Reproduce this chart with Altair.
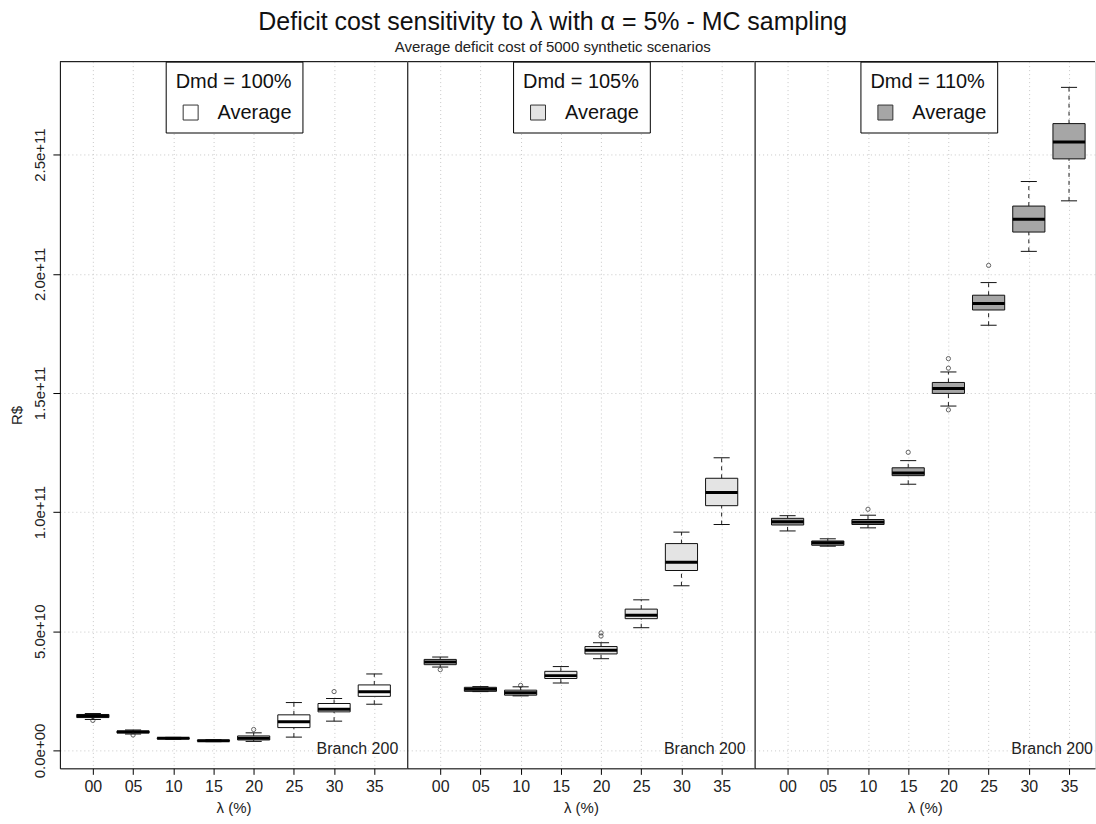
import altair as alt
import pandas as pd

FONT = "Liberation Sans"

lambdas = ["00", "05", "10", "15", "20", "25", "30", "35"]
demands = ["Dmd = 100%", "Dmd = 105%", "Dmd = 110%"]
fills = ["#ffffff", "#e4e4e4", "#a6a6a6"]

# Box-plot statistics of the average deficit cost, in billions of R$
lo_100 = [13.0, 6.9, 4.7, 3.7, 3.8, 5.6, 12.3, 19.4]
q1_100 = [13.8, 7.3, 4.9, 3.9, 4.4, 9.6, 16.2, 22.7]
md_100 = [14.45, 7.8, 5.1, 4.1, 5.15, 12.0, 17.3, 24.6]
q3_100 = [15.1, 8.2, 5.3, 4.3, 6.1, 14.95, 19.7, 27.5]
hi_100 = [15.5, 8.6, 5.5, 4.5, 7.4, 20.1, 21.8, 32.1]

lo_105 = [35.0, 24.7, 22.9, 28.3, 38.5, 51.5, 69.1, 94.8]
q1_105 = [36.0, 24.8, 23.2, 30.2, 40.5, 55.3, 75.5, 102.7]
md_105 = [37.1, 25.7, 24.2, 31.4, 42.0, 56.7, 79.0, 108.2]
q3_105 = [38.2, 26.5, 25.3, 33.2, 43.6, 59.3, 86.8, 114.2]
hi_105 = [39.2, 26.8, 26.7, 35.2, 45.2, 63.2, 91.6, 122.8]

lo_110 = [92.1, 85.7, 93.4, 111.7, 144.5, 178.4, 209.4, 230.6]
q1_110 = [94.6, 86.1, 94.8, 115.3, 149.8, 184.8, 217.5, 248.2]
md_110 = [96.0, 87.1, 95.8, 116.4, 151.9, 187.5, 222.9, 255.3]
q3_110 = [97.4, 87.9, 96.9, 118.6, 154.4, 191.0, 228.4, 263.0]
hi_110 = [98.5, 88.8, 98.7, 121.6, 158.8, 196.3, 238.7, 278.2]

# Outliers: (lambda, value in billions of R$)
out_100 = [("00", 12.6), ("05", 6.5), ("20", 8.8), ("30", 24.7)]
out_105 = [("00", 33.9), ("10", 27.3), ("20", 48.0), ("20", 49.3)]
out_110 = [("10", 101.2), ("15", 125.1), ("20", 164.4), ("20", 160.4),
           ("20", 142.9), ("25", 203.5)]

y_ticks = [0, 5e10, 1e11, 1.5e11, 2e11, 2.5e11]
BN = 1e9

stats = [
    (lo_100, q1_100, md_100, q3_100, hi_100, out_100),
    (lo_105, q1_105, md_105, q3_105, hi_105, out_105),
    (lo_110, q1_110, md_110, q3_110, hi_110, out_110),
]

UNIT = 348 / 8.64          # pixels per category step
PANEL_H = 708
x_label_expr = "[" + ",".join(f"'{l}'" for l in lambdas) + "][datum.value - 1]"
y_label_expr = "datum.value == 0 ? '0.0e+00' : format(datum.value, '.1e')"


def panel(idx, width):
    lo, q1, md, q3, hi, outs = stats[idx]
    df = pd.DataFrame({
        "pos": list(range(1, len(lambdas) + 1)),
        "lam": lambdas,
        "lo": [v * BN for v in lo],
        "q1": [v * BN for v in q1],
        "med": [v * BN for v in md],
        "q3": [v * BN for v in q3],
        "hi": [v * BN for v in hi],
        "series": ["Average"] * len(lambdas),
    })
    odf = pd.DataFrame({
        "pos": [lambdas.index(l) + 1 for l, _ in outs],
        "value": [v * BN for _, v in outs],
    })

    xs = alt.Scale(domain=[0.18, 0.18 + width / UNIT], nice=False, zero=False)
    ys = alt.Scale(domain=[-7.5e9, 2.89e11], nice=False, zero=False)

    xaxis = alt.Axis(
        values=list(range(1, 9)), labelExpr=x_label_expr, title="λ (%)",
        grid=True, gridDash=[1, 3], gridColor="#c8c8c8", gridWidth=1,
        domainColor="black", domainWidth=1, tickColor="black", tickSize=6,
        labelFontSize=16, labelFont=FONT, labelColor="#222222", labelPadding=4,
        titleFontSize=15, titleFont=FONT, titleFontWeight="normal",
        titleColor="#222222", titlePadding=6,
    )
    if idx == 0:
        yaxis = alt.Axis(
            values=y_ticks, labelExpr=y_label_expr, labelAngle=270,
            labelAlign="center", labelBaseline="bottom",
            grid=True, gridDash=[1, 3], gridColor="#c8c8c8",
            domainColor="black", tickColor="black", tickSize=7,
            labelFontSize=15, labelFont=FONT, labelColor="#222222",
            labelPadding=5, title="R$", titleFontSize=15, titleFont=FONT,
            titleFontWeight="normal", titleColor="#222222", titlePadding=8,
        )
    else:
        yaxis = alt.Axis(
            values=y_ticks, labels=False, ticks=False, title=None,
            grid=True, gridDash=[1, 3], gridColor="#c8c8c8",
            domainColor="black",
        )

    base = alt.Chart(df).transform_calculate(
        left="datum.pos - 0.4", right="datum.pos + 0.4",
        capl="datum.pos - 0.2", capr="datum.pos + 0.2",
    )

    boxes = base.mark_rect(stroke="#111111", strokeWidth=1).encode(
        x=alt.X("left:Q", scale=xs, axis=xaxis),
        x2="right:Q",
        y=alt.Y("q1:Q", scale=ys, axis=yaxis),
        y2="q3:Q",
        fill=alt.Fill(
            "series:N",
            scale=alt.Scale(domain=["Average"], range=[fills[idx]]),
            legend=alt.Legend(
                title=demands[idx], orient="none", legendX=106, legendY=0,
                direction="vertical", strokeColor="black", fillColor="white",
                padding=10, titlePadding=11, titleFontSize=20,
                labelFontSize=20, titleFont=FONT, labelFont=FONT,
                titleFontWeight="normal", titleColor="#111111",
                labelColor="#111111", symbolType="square", symbolSize=225,
                symbolStrokeColor="#333333", symbolStrokeWidth=1,
                symbolOffset=5, labelOffset=17,
            ),
        ),
    )
    whisk_up = base.mark_rule(color="#222222", strokeDash=[4, 4]).encode(
        x="pos:Q", y="q3:Q", y2="hi:Q")
    whisk_dn = base.mark_rule(color="#222222", strokeDash=[4, 4]).encode(
        x="pos:Q", y="lo:Q", y2="q1:Q")
    cap_up = base.mark_rule(color="#111111").encode(
        x="capl:Q", x2="capr:Q", y="hi:Q")
    cap_dn = base.mark_rule(color="#111111").encode(
        x="capl:Q", x2="capr:Q", y="lo:Q")
    median = base.mark_rule(color="black", strokeWidth=3).encode(
        x="left:Q", x2="right:Q", y="med:Q")
    outliers = alt.Chart(odf).mark_point(
        shape="circle", size=18, filled=False, stroke="#222222", strokeWidth=1
    ).encode(x="pos:Q", y="value:Q")

    top_line = alt.Chart(pd.DataFrame({"k": [0]})).mark_rule(color="black").encode(
        x=alt.value(0), x2=alt.value(width), y=alt.value(0))
    branch = alt.Chart(pd.DataFrame({"t": ["Branch 200"]})).mark_text(
        align="right", baseline="middle", fontSize=16, font=FONT, color="#222222"
    ).encode(x=alt.value(339), y=alt.value(689), text="t:N")

    return alt.layer(
        boxes, whisk_up, whisk_dn, cap_up, cap_dn, median, outliers,
        top_line, branch,
    ).properties(width=width, height=PANEL_H)


chart = alt.hconcat(
    panel(0, 348), panel(1, 348), panel(2, 341), spacing=0, bounds="flush"
).resolve_scale(
    x="independent", y="independent", fill="independent"
).resolve_legend(
    fill="independent"
).properties(
    title=alt.TitleParams(
        text="Deficit cost sensitivity to λ with α = 5% - MC sampling",
        subtitle="Average deficit cost of 5000 synthetic scenarios",
        fontSize=25, subtitleFontSize=15, font=FONT, subtitleFont=FONT,
        fontWeight="normal", color="#111111", subtitleColor="#222222",
        anchor="middle", offset=6, subtitlePadding=5,
    ),
    padding={"left": 9, "top": 9, "right": 0, "bottom": 0},
).configure_view(stroke=None).configure(background="white")

chart.save("out.html", embed_options={"renderer": "svg", "actions": False})
